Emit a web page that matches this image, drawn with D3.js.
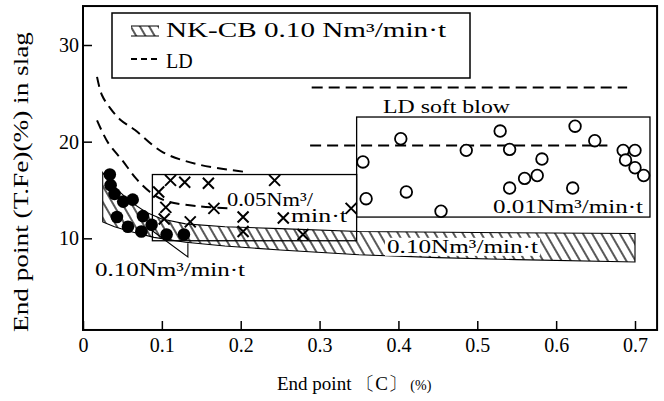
<!DOCTYPE html>
<html><head><meta charset="utf-8">
<script src="https://cdn.jsdelivr.net/npm/d3@7"></script>
<style>
body{margin:0;background:#fff;}
svg{display:block;}
text{font-family:"Liberation Serif","DejaVu Serif",serif;fill:#000;}
</style></head>
<body>
<svg id="c" width="664" height="401"></svg>
<script>
// ---- data ----
const xTicks = [0, 0.1, 0.2, 0.3, 0.4, 0.5, 0.6, 0.7];
const yTicks = [10, 20, 30];
// NK-CB 0.10 Nm3/min.t (black dots)
const nkcbX = [0.034, 0.035, 0.040, 0.051, 0.063, 0.043, 0.057, 0.076, 0.074, 0.087, 0.106, 0.128];
const nkcbY = [16.6, 15.5, 14.6, 13.8, 14.0, 12.2, 11.2, 12.3, 10.7, 11.4, 10.4, 10.4];
// 0.05 Nm3/min.t (crosses)
const mid05X = [0.096, 0.111, 0.129, 0.159, 0.243, 0.105, 0.166, 0.103, 0.136, 0.203, 0.254, 0.340, 0.203, 0.279];
const mid05Y = [14.8, 16.0, 15.8, 15.7, 16.0, 13.2, 13.1, 12.0, 11.7, 12.2, 12.1, 13.1, 10.7, 10.4];
// LD soft blow 0.01 Nm3/min.t (open circles)
const softX = [0.355, 0.359, 0.403, 0.410, 0.454, 0.486, 0.529, 0.541, 0.541, 0.560, 0.576, 0.582, 0.621, 0.624, 0.649, 0.685, 0.700, 0.688, 0.700, 0.711];
const softY = [17.9, 14.1, 20.3, 14.8, 12.8, 19.1, 21.1, 19.2, 15.2, 16.2, 16.5, 18.2, 15.2, 21.6, 20.1, 19.1, 19.1, 18.1, 17.3, 16.5];
// LD dashed curves
const ldCurve1X = [0.0178, 0.0241, 0.0342, 0.0469, 0.0660, 0.1014, 0.1484, 0.2029];
const ldCurve1Y = [26.7, 24.8, 23.5, 22.3, 21.2, 18.9, 17.6, 16.9];
const ldCurve2X = [0.0178, 0.0317, 0.0495, 0.0672, 0.0850, 0.1040, 0.1484, 0.189];
const ldCurve2Y = [22.2, 19.9, 18.1, 16.2, 14.8, 13.9, 13.3, 13.1];
const ldTopX = [0.29, 0.69], ldTopY = [25.6, 25.6];
const ldSoftX = [0.288, 0.665], ldSoftY = [19.6, 19.6];
// NK-CB hatched band
const bandUpX = [0.025, 0.04, 0.06, 0.08, 0.10, 0.13, 0.18, 0.25, 0.35, 0.5, 0.7];
const bandUpY = [16.8, 15.3, 13.8, 12.7, 12.0, 11.5, 11.2, 11.0, 10.7, 10.6, 10.5];
const bandLoX = [0.7, 0.55, 0.45, 0.35, 0.25, 0.18, 0.13, 0.09, 0.06, 0.04, 0.025];
const bandLoY = [7.55, 7.8, 8.0, 8.3, 8.8, 9.2, 9.6, 10.1, 10.7, 11.2, 11.7];
const pointerX = [0.081, 0.133, 0.133], pointerY = [11.2, 8.07, 9.5];
// boxes [x0, x1], [y0, y1]
const box05X = [0.088, 0.347], box05Y = [9.75, 16.6];
const boxSoftX = [0.347, 0.719], boxSoftY = [12.2, 22.55];

const zip = (a, b) => a.map((v, i) => [v, b[i]]);

// ---- chart ----
const svg = d3.select("#c");
const x = d3.scaleLinear().domain([0, 0.7]).range([83, 635]);
const y = d3.scaleLinear().domain([0, 30]).range([335, 45]);
const xMax = 0.728, yMin = 0.52, yMax = 34.03;

const defs = svg.append("defs");
defs.append("pattern").attr("id", "hatch").attr("patternUnits", "userSpaceOnUse")
  .attr("width", 8).attr("height", 8).attr("patternTransform", "rotate(-30)")
  .append("line").attr("x1", 4).attr("y1", -1).attr("x2", 4).attr("y2", 9)
  .attr("stroke", "#000").attr("stroke-width", 1.3);

const line = d3.line().x(d => x(d[0])).y(d => y(d[1]));
const curve = d3.line().x(d => x(d[0])).y(d => y(d[1])).curve(d3.curveCatmullRom);

// hatched band
const band = zip(bandUpX, bandUpY).concat(zip(bandLoX, bandLoY));
svg.append("path").attr("d", d3.line().x(d => x(d[0])).y(d => y(d[1])).curve(d3.curveLinearClosed)(band))
  .attr("fill", "url(#hatch)").attr("stroke", "#000").attr("stroke-width", 1.1);
svg.append("path").attr("d", line(zip(pointerX, pointerY)))
  .attr("fill", "none").attr("stroke", "#000").attr("stroke-width", 1.1);

// boxes
function box(bx, by, w) {
  svg.append("rect").attr("x", x(bx[0])).attr("y", y(by[1]))
    .attr("width", x(bx[1]) - x(bx[0])).attr("height", y(by[0]) - y(by[1]))
    .attr("fill", "none").attr("stroke", "#000").attr("stroke-width", w);
}
box(box05X, box05Y, 1.3);
box(boxSoftX, boxSoftY, 1.3);

// LD dashed lines
[[ldCurve1X, ldCurve1Y], [ldCurve2X, ldCurve2Y]].forEach(([a, b]) => {
  svg.append("path").attr("d", curve(zip(a, b))).attr("fill", "none")
    .attr("stroke", "#000").attr("stroke-width", 2).attr("stroke-dasharray", "10,6");
});
[[ldTopX, ldTopY], [ldSoftX, ldSoftY]].forEach(([a, b]) => {
  svg.append("path").attr("d", line(zip(a, b))).attr("fill", "none")
    .attr("stroke", "#000").attr("stroke-width", 2).attr("stroke-dasharray", "11,6");
});

// labels
function label(t, x0, base, len, size, bg) {
  if (bg) svg.append("rect").attr("x", x0 - 2).attr("y", base - size * 0.8).attr("width", len + 4)
    .attr("height", size * 0.95).attr("fill", "#fff");
  svg.append("text").attr("x", x0).attr("y", base).attr("font-size", size)
    .attr("textLength", len).attr("lengthAdjust", "spacingAndGlyphs").text(t);
}
label("0.10Nm³/min·t", 387, 253, 151, 19, true);
label("0.10Nm³/min·t", 95, 276, 150, 19, false);
label("0.01Nm³/min·t", 493, 213, 150, 19, false);
label("0.05Nm³/", 227, 206, 86, 19, false);
label("min·t", 291, 222, 56, 19, false);
label("LD soft blow", 383, 113, 127, 19, false);

// markers
svg.append("g").selectAll("circle").data(zip(nkcbX, nkcbY)).join("circle")
  .attr("cx", d => x(d[0])).attr("cy", d => y(d[1])).attr("r", 6.3).attr("fill", "#000");
svg.append("g").selectAll("circle").data(zip(softX, softY)).join("circle")
  .attr("cx", d => x(d[0])).attr("cy", d => y(d[1])).attr("r", 5.8)
  .attr("fill", "#fff").attr("stroke", "#000").attr("stroke-width", 1.8);
svg.append("g").selectAll("path").data(zip(mid05X, mid05Y)).join("path")
  .attr("d", d => { const cx = x(d[0]), cy = y(d[1]), s = 5.5;
    return `M${cx - s},${cy - s}L${cx + s},${cy + s}M${cx - s},${cy + s}L${cx + s},${cy - s}`; })
  .attr("stroke", "#000").attr("stroke-width", 2);

// axes
const xAxis = d3.axisBottom(x).tickValues(xTicks).tickSizeInner(-9).tickSizeOuter(0).tickPadding(8)
  .tickFormat(d => d === 0 ? "0" : d3.format(".1f")(d));
const gx = svg.append("g").attr("transform", `translate(0,${y(yMin)})`).call(xAxis);
const yAxis = d3.axisLeft(y).tickValues(yTicks).tickSizeInner(-9).tickSizeOuter(0).tickPadding(4);
const gy = svg.append("g").attr("transform", `translate(${x(0)},0)`).call(yAxis);
[gx, gy].forEach(g => {
  g.select(".domain").remove();
  g.selectAll("line").attr("stroke", "#000").attr("stroke-width", 1.5);
  g.selectAll("text").attr("font-size", 20).attr("font-family", "Liberation Serif, serif").attr("fill", "#000");
});
svg.append("rect").attr("x", x(0)).attr("y", y(yMax)).attr("width", x(xMax) - x(0))
  .attr("height", y(yMin) - y(yMax)).attr("fill", "none").attr("stroke", "#000").attr("stroke-width", 2);

// legend
svg.append("rect").attr("x", 112).attr("y", 13).attr("width", 358).attr("height", 65)
  .attr("fill", "#fff").attr("stroke", "#000").attr("stroke-width", 1.5);
svg.append("rect").attr("x", 131).attr("y", 26).attr("width", 28).attr("height", 10).attr("fill", "url(#hatch)");
svg.append("line").attr("x1", 131).attr("x2", 159).attr("y1", 26).attr("y2", 26).attr("stroke", "#000").attr("stroke-width", 1);
svg.append("line").attr("x1", 131).attr("x2", 159).attr("y1", 36).attr("y2", 36).attr("stroke", "#000").attr("stroke-width", 1);
svg.append("line").attr("x1", 131).attr("x2", 159).attr("y1", 59).attr("y2", 59)
  .attr("stroke", "#000").attr("stroke-width", 2).attr("stroke-dasharray", "6,4");
svg.append("text").attr("x", 166).attr("y", 37).attr("font-size", 20)
  .attr("textLength", 280).attr("lengthAdjust", "spacingAndGlyphs").text("NK-CB 0.10 Nm³/min·t");
svg.append("text").attr("x", 166).attr("y", 68).attr("font-size", 20).text("LD");

// axis titles
const xt = svg.append("text").attr("x", 277).attr("y", 390).attr("font-size", 19);
xt.append("tspan").text("End point ");
xt.append("tspan").text("〔C〕");
xt.append("tspan").attr("font-size", 14).text(" (%)");
svg.append("text").attr("transform", "translate(28,182) rotate(-90)").attr("text-anchor", "middle")
  .attr("font-size", 20).attr("textLength", 300).attr("lengthAdjust", "spacingAndGlyphs")
  .text("End point (T.Fe)(%) in slag");
</script>
</body></html>
